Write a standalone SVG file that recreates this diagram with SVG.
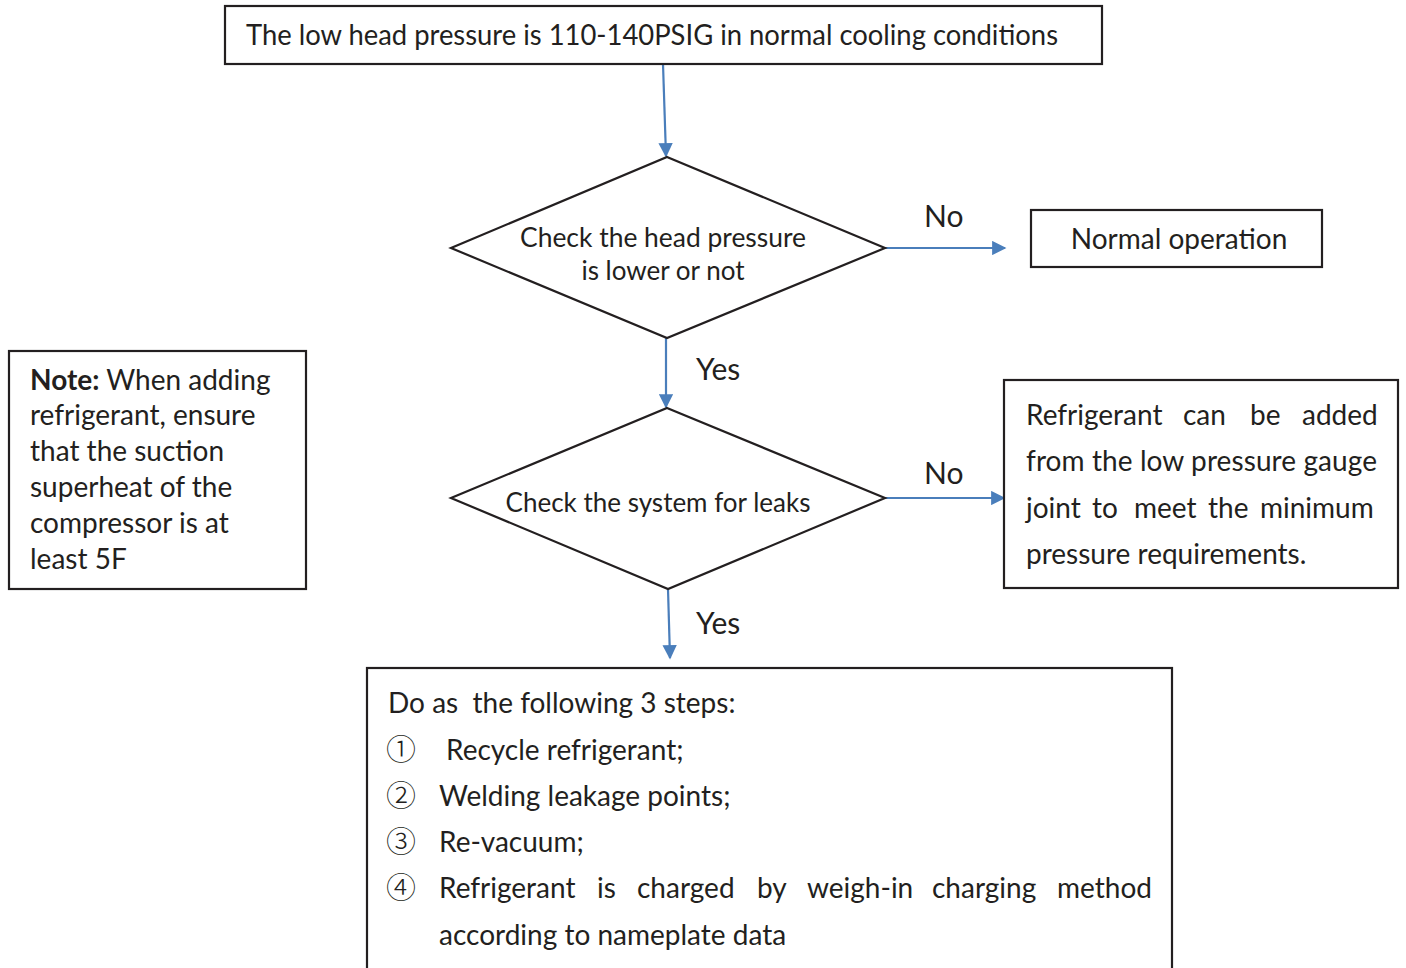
<svg xmlns="http://www.w3.org/2000/svg" width="1406" height="968" viewBox="0 0 1406 968">
  <defs>
    <marker id="arrow" viewBox="0 0 10 10" refX="9" refY="5" markerWidth="7.5" markerHeight="6.5" orient="auto" markerUnits="strokeWidth">
      <path d="M0,0 L10,5 L0,10 Z" fill="#4a7ebb"/>
    </marker>
    <style>
      .box { fill: #ffffff; stroke: #231f20; stroke-width: 2.2; }
      .link { fill: none; stroke: #4a7ebb; stroke-width: 2.2; marker-end: url(#arrow); }
      .t { font-family: Lato, "Noto Sans", "Liberation Sans", sans-serif; font-size: 28px; fill: #231f20; }
      .d { font-size: 26px; }
      .lbl { font-size: 30px; }
      .c { text-anchor: middle; }
      .num { font-family: "Noto Sans CJK SC", "DejaVu Sans", sans-serif; font-size: 30px; fill: #231f20; font-weight: 300; }
    </style>
  </defs>
  <rect width="1406" height="968" fill="#ffffff"/>

  <!-- connectors -->
  <g id="connectors">
    <path class="link" d="M663,64 L666,156"/>
    <path class="link" d="M885,248 L1005,248"/>
    <path class="link" d="M666,338 L666,407"/>
    <path class="link" d="M885,498 L1004,498"/>
    <path class="link" d="M668,589 L670,658"/>
    <text class="t lbl" x="924" y="227">No</text>
    <text class="t lbl" x="696" y="380">Yes</text>
    <text class="t lbl" x="924" y="484">No</text>
    <text class="t lbl" x="696" y="634">Yes</text>
  </g>

  <g id="start">
    <rect class="box" x="225" y="6" width="877" height="58"/>
    <text class="t" x="246" y="45" textLength="812" lengthAdjust="spacingAndGlyphs">The low head pressure is 110-140PSIG in normal cooling conditions</text>
  </g>

  <g id="check-pressure">
    <polygon class="box" points="667,157 885,248 667,338 451,248"/>
    <text class="t d c" x="663" y="247" textLength="286" lengthAdjust="spacingAndGlyphs">Check the head pressure</text>
    <text class="t d c" x="663" y="280">is lower or not</text>
  </g>

  <g id="normal">
    <rect class="box" x="1031" y="210" width="291" height="57"/>
    <text class="t c" x="1179" y="249">Normal operation</text>
  </g>

  <g id="check-leaks">
    <polygon class="box" points="667,408 885,498 668,589 451,498"/>
    <text class="t d c" x="658" y="512">Check the system for leaks</text>
  </g>

  <g id="add-refrigerant">
    <rect class="box" x="1004" y="380" width="394" height="208"/>
    <text class="t" y="425"><tspan x="1026">Refrigerant</tspan><tspan x="1183">can</tspan><tspan x="1250">be</tspan><tspan x="1302">added</tspan></text>
    <text class="t" x="1026" y="471" textLength="351" lengthAdjust="spacing">from the low pressure gauge</text>
    <text class="t" y="518"><tspan x="1026">joint</tspan><tspan x="1092">to</tspan><tspan x="1134">meet</tspan><tspan x="1208">the</tspan><tspan x="1260">minimum</tspan></text>
    <text class="t" x="1026" y="564">pressure requirements.</text>
  </g>

  <g id="note">
    <rect class="box" x="9" y="351" width="297" height="238"/>
    <text class="t" x="30" y="390"><tspan font-weight="bold">Note:</tspan> When adding</text>
    <text class="t" x="30" y="425">refrigerant, ensure</text>
    <text class="t" x="30" y="461">that the suction</text>
    <text class="t" x="30" y="497">superheat of the</text>
    <text class="t" x="30" y="533">compressor is at</text>
    <text class="t" x="30" y="569">least 5F</text>
  </g>

  <g id="steps">
    <rect class="box" x="367" y="668" width="805" height="310"/>
    <text class="t" x="388" y="713" xml:space="preserve">Do as  the following 3 steps:</text>
    <text class="num" x="386" y="760">①</text>
    <text class="t" x="446" y="760">Recycle refrigerant;</text>
    <text class="num" x="386" y="806">②</text>
    <text class="t" x="439" y="806">Welding leakage points;</text>
    <text class="num" x="386" y="852">③</text>
    <text class="t" x="439" y="852">Re-vacuum;</text>
    <text class="num" x="386" y="898">④</text>
    <text class="t" y="898"><tspan x="439">Refrigerant</tspan><tspan x="597">is</tspan><tspan x="637">charged</tspan><tspan x="757">by</tspan><tspan x="807">weigh-in</tspan><tspan x="932">charging</tspan><tspan x="1057">method</tspan></text>
    <text class="t" x="439" y="945">according to nameplate data</text>
  </g>
</svg>
